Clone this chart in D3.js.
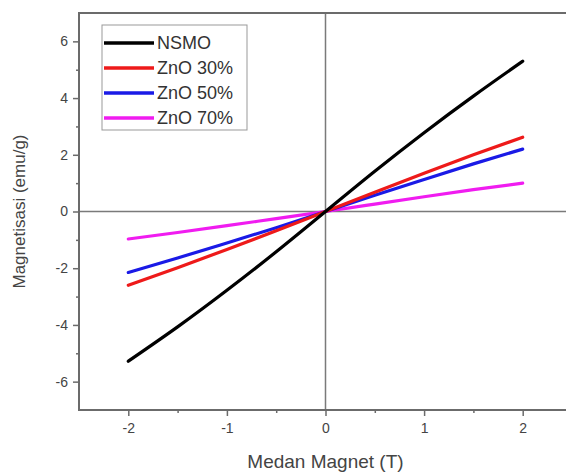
<!DOCTYPE html>
<html>
<head>
<meta charset="utf-8">
<script src="https://cdn.jsdelivr.net/npm/d3@7"></script>
<style>
  body { margin: 0; background: #fff; }
  text { font-family: "Liberation Sans", Arial, sans-serif; }
</style>
</head>
<body>
<svg id="chart" width="566" height="472"></svg>
<script>
// data
var field = [-2, -1.5, -1, -0.5, 0, 0.5, 1, 1.5, 2];
var nsmo   = [-5.28, -4.07, -2.78, -1.42, 0, 1.42, 2.78, 4.07, 5.3];
var zno30  = [-2.6, -1.98, -1.34, -0.68, 0, 0.68, 1.35, 2.0, 2.62];
var zno50  = [-2.15, -1.64, -1.11, -0.57, 0, 0.57, 1.13, 1.68, 2.2];
var zno70  = [-0.97, -0.74, -0.5, -0.25, 0, 0.26, 0.52, 0.77, 1.0];
var names  = ["NSMO", "ZnO 30%", "ZnO 50%", "ZnO 70%"];
var colors = ["#000000", "#ee1a1a", "#1a1ae6", "#f01cf0"];
var xTicks = [-2, -1, 0, 1, 2];
var yTicks = [-6, -4, -2, 0, 2, 4, 6];

var series = [nsmo, zno30, zno50, zno70];

var margin = {top: 13, left: 79},
    width = 493, height = 397;

var svg = d3.select("#chart"),
    g = svg.append("g").attr("transform", "translate(" + margin.left + "," + margin.top + ")");

var x = d3.scaleLinear().domain([-2.5, 2.5]).range([0, width]);
var y = d3.scaleLinear().domain([-7, 7]).range([height, 0]);

var axisCol = "#6b6b6b", textCol = "#444";
var fmt = function(d) { return String(d); };   // plain hyphen minus like the original

// zero lines
g.append("line").attr("x1", x(0)).attr("x2", x(0)).attr("y1", 0).attr("y2", height)
  .attr("stroke", "#7a7a7a").attr("stroke-width", 1.5);
g.append("line").attr("x1", 0).attr("x2", width).attr("y1", y(0)).attr("y2", y(0))
  .attr("stroke", "#7a7a7a").attr("stroke-width", 1.5);

var line = d3.line()
    .curve(d3.curveNatural)
    .x(function(d, i) { return x(field[i]); })
    .y(function(d) { return y(d); });

// draw weaker series first so black sits on top
[3, 2, 1, 0].forEach(function(k) {
  g.append("path").datum(series[k])
    .attr("fill", "none")
    .attr("stroke", colors[k])
    .attr("stroke-width", 3.2)
    .attr("stroke-linecap", "round")
    .attr("d", line);
});

// axes
var xAxis = g.append("g").attr("transform", "translate(0," + height + ")")
  .call(d3.axisBottom(x).tickValues(xTicks).tickSize(6).tickPadding(7).tickFormat(fmt));
var xMinor = g.append("g").attr("transform", "translate(0," + height + ")")
  .call(d3.axisBottom(x).tickValues([-1.5, -0.5, 0.5, 1.5]).tickSize(3).tickFormat(""));
var yAxis = g.append("g")
  .call(d3.axisLeft(y).tickValues(yTicks).tickSize(6).tickPadding(5).tickFormat(fmt));
var yMinor = g.append("g")
  .call(d3.axisLeft(y).tickValues([-5, -3, -1, 1, 3, 5]).tickSize(3).tickFormat(""));

[xAxis, xMinor, yAxis, yMinor].forEach(function(a) {
  a.select(".domain").remove();
  a.selectAll("line").attr("stroke", axisCol).attr("stroke-width", 1.5);
  a.selectAll("text").attr("fill", textCol).style("font-size", "14px");
});

// frame
g.append("rect").attr("width", width).attr("height", height)
  .attr("fill", "none").attr("stroke", axisCol).attr("stroke-width", 2);

// legend
var leg = g.append("g").attr("transform", "translate(23,12)");
leg.append("rect").attr("width", 145).attr("height", 105)
  .attr("fill", "#fff").attr("stroke", "#999").attr("stroke-width", 1);
names.forEach(function(n, i) {
  var ly = 18 + i * 25;
  leg.append("line").attr("x1", 2).attr("x2", 52).attr("y1", ly).attr("y2", ly)
    .attr("stroke", colors[i]).attr("stroke-width", 3.5);
  leg.append("text").attr("x", 55).attr("y", ly + 6).text(n)
    .attr("fill", "#333").style("font-size", "18px");
});

// axis titles
svg.append("text").attr("x", margin.left + x(0)).attr("y", 468)
  .attr("text-anchor", "middle").attr("fill", "#444").style("font-size", "19px")
  .text("Medan Magnet (T)");
svg.append("text")
  .attr("transform", "translate(25," + (margin.top + y(0)) + ") rotate(-90)")
  .attr("text-anchor", "middle").attr("fill", "#444").style("font-size", "17px")
  .text("Magnetisasi (emu/g)");
</script>
</body>
</html>
